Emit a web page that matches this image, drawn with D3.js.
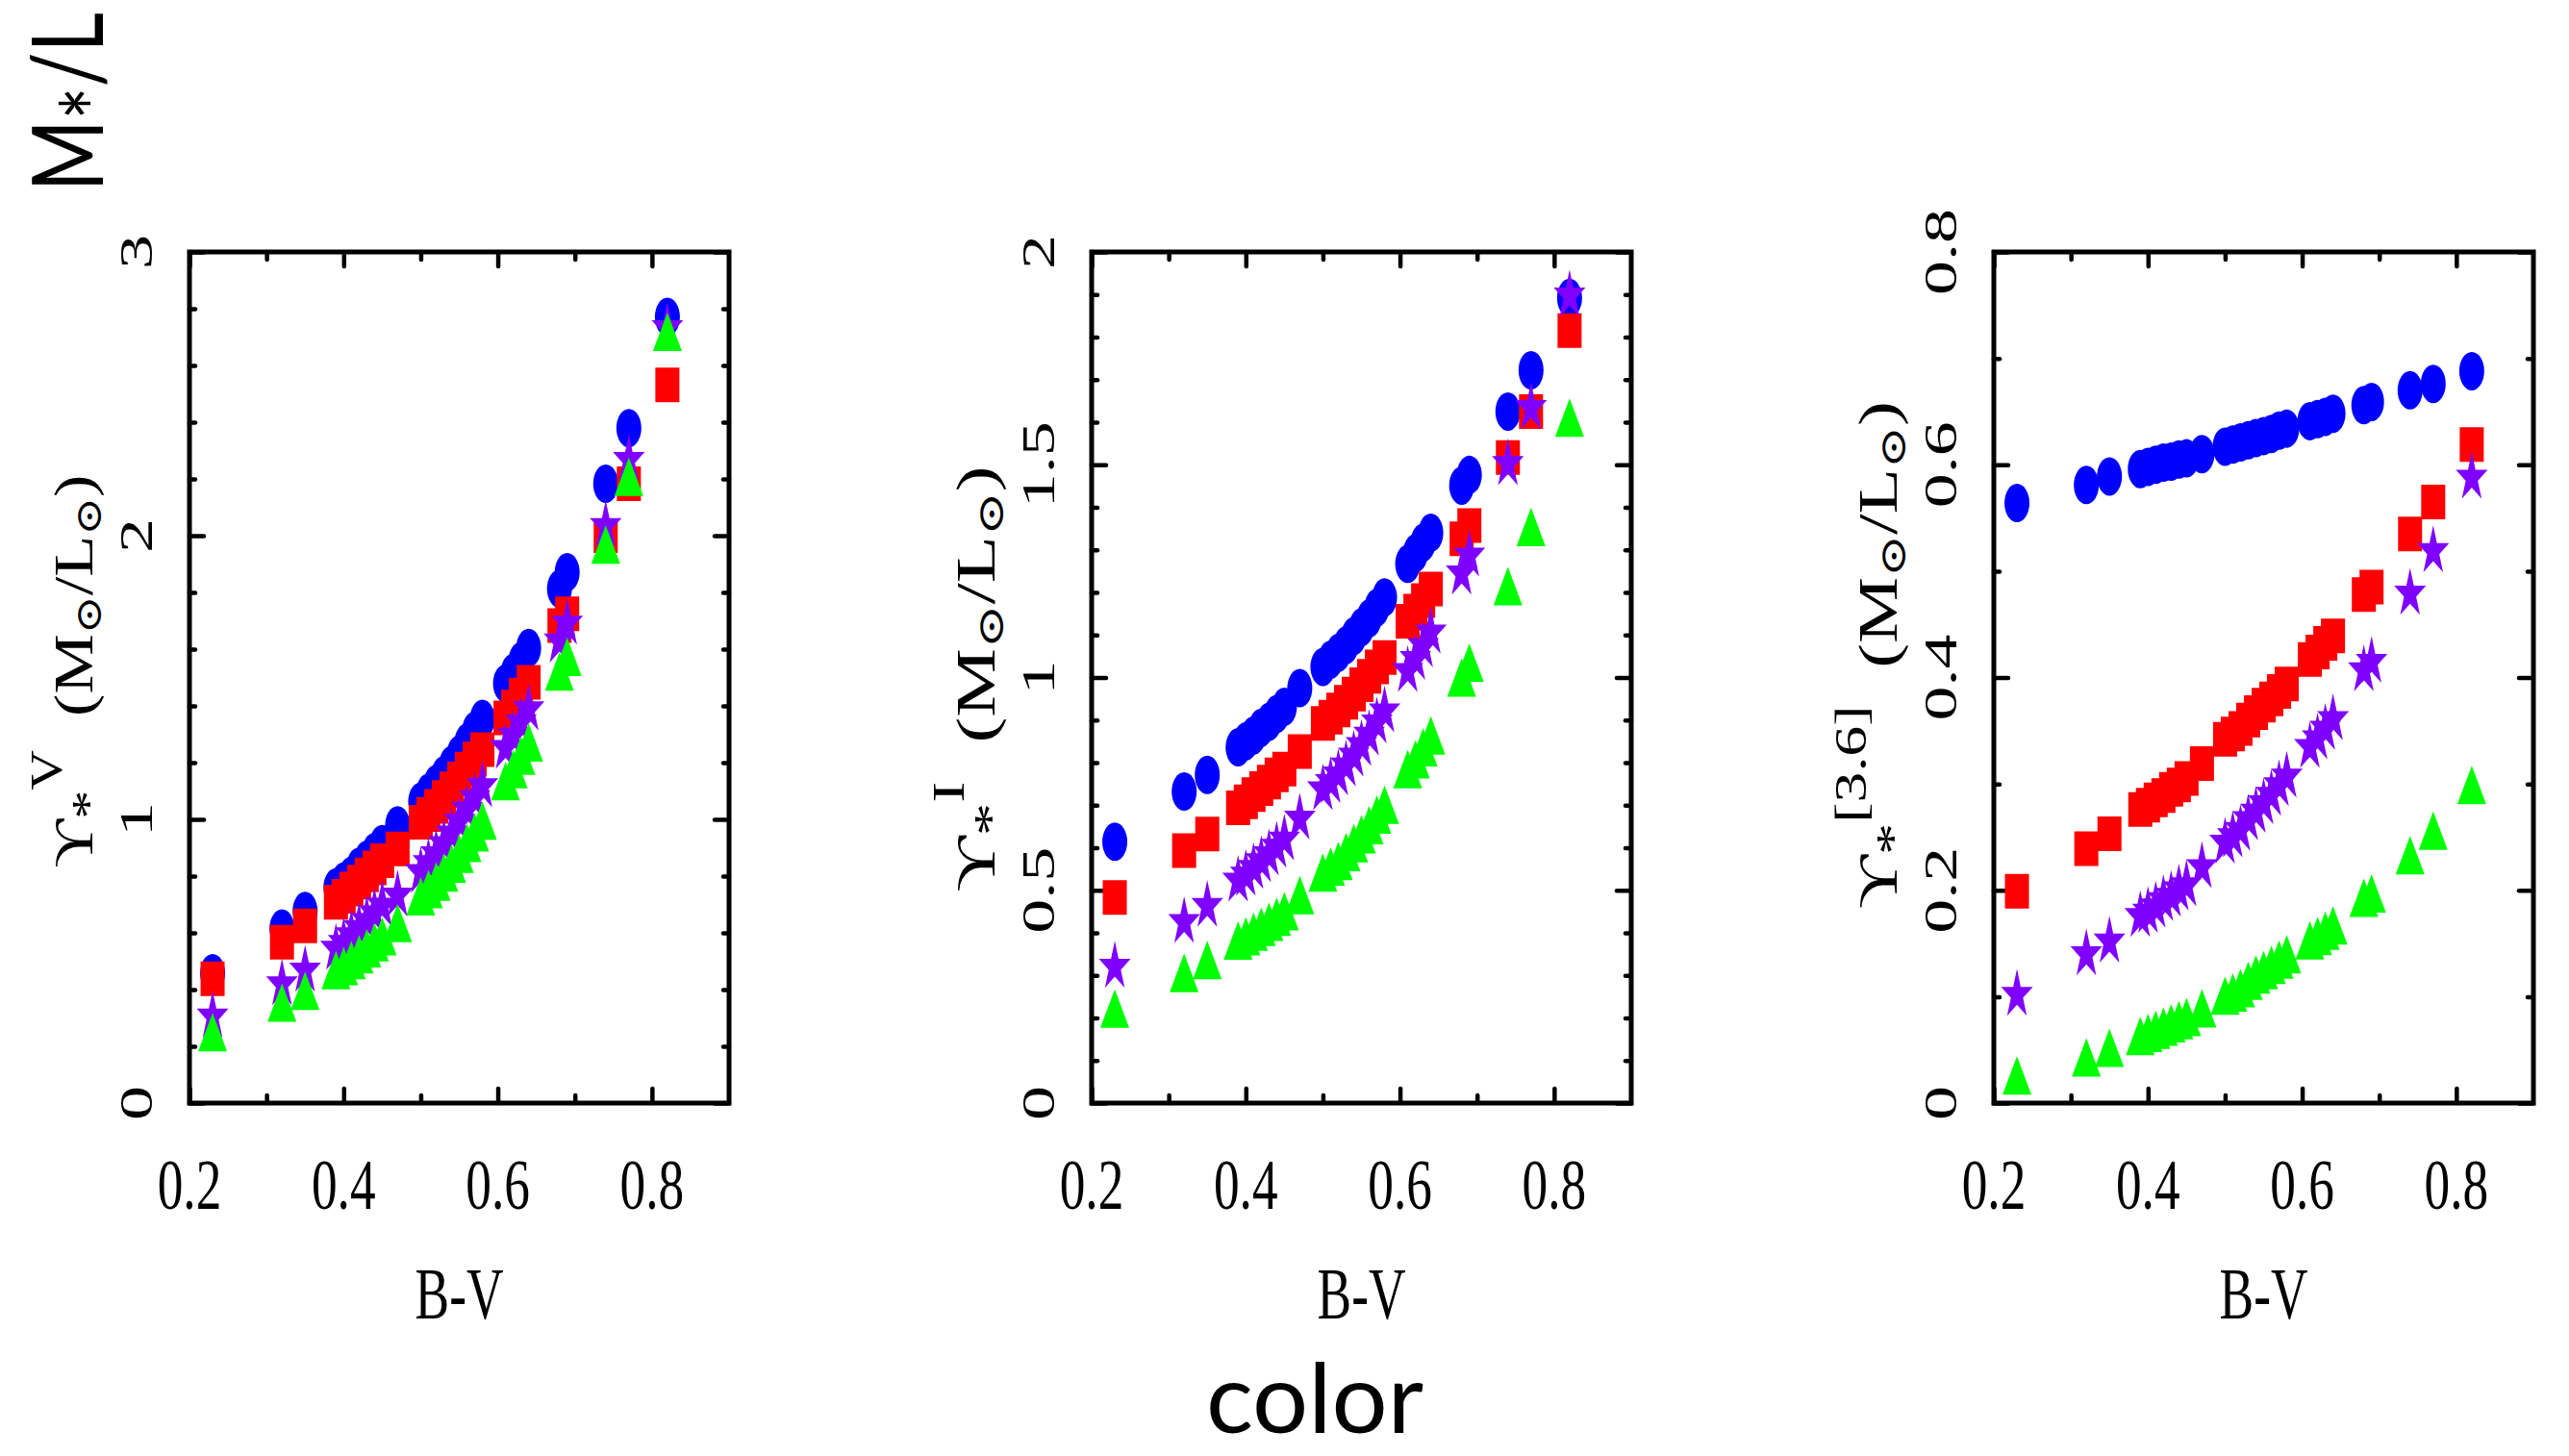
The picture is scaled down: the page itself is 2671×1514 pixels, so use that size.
<!DOCTYPE html>
<html><head><meta charset="utf-8">
<script src="https://cdn.jsdelivr.net/npm/d3@7"></script>
<style>html,body{margin:0;padding:0;background:#fff;} svg{display:block}</style>
</head><body>
<svg id="chart" width="2671" height="1514"></svg>
<script>
// ---------------- DATA ----------------
const bv = [0.23,0.32,0.35,0.39,0.40,0.41,0.42,0.43,0.44,0.45,0.47,0.50,0.51,0.52,0.53,0.54,0.55,0.56,0.57,0.58,0.61,0.62,0.63,0.64,0.68,0.69,0.74,0.77,0.82];

const vBlue   = [0.458,0.615,0.677,0.760,0.781,0.802,0.833,0.858,0.885,0.913,0.979,1.063,1.094,1.125,1.156,1.192,1.229,1.271,1.313,1.354,1.479,1.517,1.558,1.604,1.813,1.871,2.183,2.379,2.771];
const vRed    = [0.438,0.567,0.625,0.708,0.729,0.754,0.779,0.804,0.829,0.854,0.896,0.990,1.017,1.046,1.077,1.108,1.142,1.177,1.213,1.246,1.358,1.396,1.438,1.483,1.683,1.725,2.000,2.183,2.531];
const vPurple = [0.313,0.427,0.475,0.552,0.573,0.600,0.625,0.650,0.677,0.704,0.740,0.823,0.854,0.885,0.921,0.958,1.000,1.042,1.083,1.125,1.260,1.302,1.350,1.396,1.635,1.698,2.042,2.275,2.740];
const vGreen  = [0.250,0.354,0.396,0.469,0.483,0.504,0.525,0.546,0.567,0.588,0.635,0.729,0.754,0.781,0.813,0.844,0.879,0.917,0.954,0.996,1.135,1.177,1.225,1.271,1.521,1.573,1.969,2.208,2.719];

const iBlue   = [0.614,0.732,0.771,0.836,0.850,0.864,0.882,0.896,0.914,0.931,0.975,1.025,1.042,1.058,1.076,1.097,1.118,1.139,1.164,1.188,1.267,1.292,1.317,1.340,1.451,1.476,1.625,1.722,1.892];
const iRed    = [0.483,0.593,0.632,0.694,0.708,0.725,0.739,0.754,0.771,0.785,0.826,0.892,0.907,0.924,0.942,0.961,0.983,1.003,1.025,1.047,1.132,1.156,1.181,1.208,1.326,1.357,1.517,1.625,1.815];
const iPurple = [0.326,0.431,0.469,0.528,0.542,0.558,0.574,0.590,0.608,0.625,0.674,0.743,0.760,0.778,0.799,0.822,0.847,0.871,0.900,0.926,1.021,1.049,1.079,1.111,1.250,1.292,1.507,1.639,1.903];
const iGreen  = [0.222,0.306,0.336,0.382,0.392,0.403,0.414,0.426,0.438,0.451,0.489,0.542,0.556,0.569,0.590,0.611,0.632,0.653,0.678,0.701,0.785,0.808,0.836,0.864,1.000,1.035,1.215,1.354,1.611];

const irBlue   = [0.564,0.581,0.589,0.596,0.598,0.600,0.602,0.603,0.605,0.606,0.610,0.617,0.619,0.621,0.623,0.625,0.627,0.629,0.632,0.634,0.641,0.643,0.645,0.648,0.656,0.659,0.670,0.676,0.688];
const irRed    = [0.199,0.239,0.253,0.276,0.280,0.285,0.289,0.295,0.299,0.305,0.319,0.342,0.347,0.352,0.360,0.367,0.374,0.380,0.387,0.394,0.417,0.424,0.432,0.439,0.478,0.485,0.535,0.565,0.619];
const irPurple = [0.104,0.142,0.154,0.178,0.182,0.187,0.193,0.197,0.203,0.207,0.224,0.247,0.253,0.259,0.269,0.276,0.284,0.292,0.301,0.309,0.337,0.345,0.354,0.363,0.409,0.417,0.481,0.521,0.590];
const irGreen  = [0.026,0.043,0.052,0.063,0.066,0.069,0.072,0.075,0.078,0.081,0.089,0.101,0.104,0.108,0.115,0.121,0.125,0.130,0.135,0.140,0.153,0.157,0.162,0.167,0.193,0.197,0.233,0.256,0.299];

const xTickValues = [0.2,0.4,0.6,0.8];
const xTickLabels = ["0.2","0.4","0.6","0.8"];
const yTicksV  = [0,1,2,3],           yLabelsV  = ["0","1","2","3"];
const yTicksI  = [0,0.5,1,1.5,2],     yLabelsI  = ["0","0.5","1","1.5","2"];
const yTicksIR = [0,0.2,0.4,0.6,0.8], yLabelsIR = ["0","0.2","0.4","0.6","0.8"];
const xTitle = "B-V";
const mainXTitle = "color";

// ---------------- LAYOUT ----------------
const svg = d3.select("#chart");
const panelLeft = [197, 1135, 2073];
const PW = 561, PT = 262, PB = 1147;
const COLORS = {blue:"#0000ff", red:"#ff0000", purple:"#7f00ff", green:"#00ff00"};
const SERIF = "'Liberation Serif','DejaVu Serif',serif";

const panels = [
  {ymax:3,   major:yTicksV,  labels:yLabelsV,  minorStep:0.2, sup:"V",     series:[vBlue,vRed,vPurple,vGreen],     tLen:409, tCen:698},
  {ymax:2,   major:yTicksI,  labels:yLabelsI,  minorStep:0.1, sup:"I",     series:[iBlue,iRed,iPurple,iGreen],     tLen:443, tCen:706},
  {ymax:0.8, major:yTicksIR, labels:yLabelsIR, minorStep:0.1, sup:"[3.6]", series:[irBlue,irRed,irPurple,irGreen], tLen:528, tCen:681}
];

const markers = [
  {color:COLORS.blue,   path:d3.symbol(d3.symbolCircle, 531)(),   sx:1, sy:20/13, dy:0},
  {color:COLORS.red,    path:d3.symbol(d3.symbolSquare, 625)(),   sx:1, sy:1.44, dy:0},
  {color:COLORS.purple, path:d3.symbol(d3.symbolStar, 338)(),     sx:1, sy:1.55, dy:2.5},
  {color:COLORS.green,  path:d3.symbol(d3.symbolTriangle, 390)(), sx:1, sy:1.54, dy:6.7}
];

function fitScale(node, target){ const w = node.getBBox().width; return w>0 ? target/w : 1; }
function range(a,b,step){ const out=[]; for(let v=a; v<=b+1e-9; v+=step) out.push(+v.toFixed(4)); return out; }

panels.forEach((p, k) => {
  const L = panelLeft[k];
  const x = d3.scaleLinear().domain([0.2,0.9]).range([L, L+PW]);
  const y = d3.scaleLinear().domain([0,p.ymax]).range([PB, PT]);
  const g = svg.append("g");

  const xMajor = [0.2,0.4,0.6,0.8], xMinor = [0.3,0.5,0.7];
  const yMajor = p.major;
  const yMinor = range(0,p.ymax,p.minorStep).filter(v => !yMajor.some(m => Math.abs(m-v)<1e-6));
  const mk = (axisFn, scale, vals, len, tr) => {
    const a = g.append("g").attr("transform", tr)
      .call(axisFn(scale).tickValues(vals).tickSizeInner(-len).tickSizeOuter(0).tickFormat(""));
    a.select(".domain").remove();
    a.selectAll(".tick line").attr("stroke","#000").attr("stroke-width",4.5).attr("stroke-linecap","round");
  };
  mk(d3.axisBottom, x, xMajor, 15, `translate(0,${PB})`);
  mk(d3.axisBottom, x, xMinor, 8,  `translate(0,${PB})`);
  mk(d3.axisTop,    x, xMajor, 15, `translate(0,${PT})`);
  mk(d3.axisTop,    x, xMinor, 8,  `translate(0,${PT})`);
  mk(d3.axisLeft,   y, yMajor, 15, `translate(${L},0)`);
  mk(d3.axisLeft,   y, yMinor, 6,  `translate(${L},0)`);
  mk(d3.axisRight,  y, yMajor, 15, `translate(${L+PW},0)`);
  mk(d3.axisRight,  y, yMinor, 6,  `translate(${L+PW},0)`);

  g.append("rect").attr("x",L).attr("y",PT).attr("width",PW).attr("height",PB-PT)
    .attr("fill","none").attr("stroke","#000").attr("stroke-width",5);

  p.series.forEach((vals, s) => {
    const m = markers[s];
    g.append("g").selectAll("path").data(bv.map((b,i)=>[b, vals[i]])).join("path")
      .attr("d", m.path).attr("fill", m.color)
      .attr("transform", d => `translate(${x(d[0])},${y(d[1]) + m.dy}) scale(${m.sx},${m.sy})`);
  });

  xTickValues.forEach((v,i) => {
    g.append("text").attr("text-anchor","middle")
      .attr("font-family",SERIF).attr("font-size",74).text(xTickLabels[i])
      .attr("transform",`translate(${x(v)},1257) scale(0.72,1)`);
  });
  p.major.forEach((v,i) => {
    const gg = g.append("g").attr("transform",`translate(${L-39},${y(v)}) rotate(-90)`);
    gg.append("text").attr("text-anchor","middle").attr("font-family",SERIF).attr("font-size",48)
      .attr("transform","scale(1.5,1)").text(p.labels[i]);
  });
  const xt = g.append("text").attr("text-anchor","middle").attr("font-family",SERIF).attr("font-size",77).text(xTitle);
  xt.attr("transform",`translate(${L+PW/2},1371) scale(${fitScale(xt.node(), 92)},1)`);

  const tg = g.append("g").attr("transform",`translate(${L-101},${p.tCen}) rotate(-90)`);
  const tt = tg.append("text").attr("text-anchor","middle").attr("font-family",SERIF).attr("font-size",56);
  tt.append("tspan").text("ϒ");
  tt.append("tspan").attr("dy",12).attr("font-size",48).text("*");
  tt.append("tspan").attr("dy",-44).attr("font-size",46).text(p.sup);
  tt.append("tspan").attr("dy",32).text("\u2002(M");
  tt.append("tspan").attr("dy",9).attr("font-size",38).text("⊙");
  tt.append("tspan").attr("dy",-9).text("/L");
  tt.append("tspan").attr("dy",9).attr("font-size",38).text("⊙");
  tt.append("tspan").attr("dy",-9).text(")");
  tt.attr("transform",`scale(${fitScale(tt.node(), p.tLen)},1)`);
});

const my = svg.append("g").attr("transform","translate(107,199) rotate(-90)");
const myt = my.append("text").attr("text-anchor","start").attr("font-family","Lato,'Open Sans',sans-serif").attr("font-size",103);
myt.append("tspan").text("M");
myt.append("tspan").attr("dy",31).text("*");
myt.append("tspan").attr("dy",-31).text("/L");
myt.attr("transform",`scale(${fitScale(myt.node(),186)},1)`);

const cx = svg.append("text").attr("text-anchor","middle").attr("font-family","Lato,'Open Sans',sans-serif").attr("font-size",100).text(mainXTitle);
cx.attr("transform",`translate(1367,1490) scale(${fitScale(cx.node(),226)},1)`);
</script>
</body></html>
